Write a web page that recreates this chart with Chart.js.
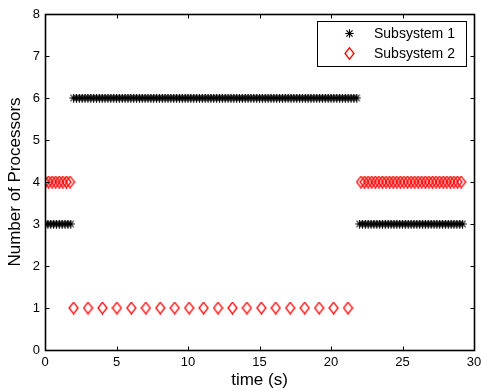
<!DOCTYPE html>
<html>
<head>
<meta charset="utf-8">
<script src="https://cdn.jsdelivr.net/npm/chart.js@4.4.1/dist/chart.umd.min.js"></script>
<style>
html,body{margin:0;padding:0;background:#fff;}
#wrap{width:481px;height:391px;position:relative;}
</style>
</head>
<body>
<div id="wrap"><canvas id="c" width="481" height="391"></canvas></div>
<script>
// ---- Data ----
const seriesNames = ["Subsystem 1", "Subsystem 2"];

// Subsystem 1: time stamps (s) per segment and processor count per segment
const s1TimeA = [0, 0.2, 0.4, 0.6, 0.8, 1.0, 1.2, 1.4, 1.6, 1.8];
const s1ProcsA = 3;
const s1TimeB = [
  2.0, 2.2, 2.4, 2.6, 2.8, 3.0, 3.2, 3.4, 3.6, 3.8,
  4.0, 4.2, 4.4, 4.6, 4.8, 5.0, 5.2, 5.4, 5.6, 5.8,
  6.0, 6.2, 6.4, 6.6, 6.8, 7.0, 7.2, 7.4, 7.6, 7.8,
  8.0, 8.2, 8.4, 8.6, 8.8, 9.0, 9.2, 9.4, 9.6, 9.8,
  10.0, 10.2, 10.4, 10.6, 10.8, 11.0, 11.2, 11.4, 11.6, 11.8,
  12.0, 12.2, 12.4, 12.6, 12.8, 13.0, 13.2, 13.4, 13.6, 13.8,
  14.0, 14.2, 14.4, 14.6, 14.8, 15.0, 15.2, 15.4, 15.6, 15.8,
  16.0, 16.2, 16.4, 16.6, 16.8, 17.0, 17.2, 17.4, 17.6, 17.8,
  18.0, 18.2, 18.4, 18.6, 18.8, 19.0, 19.2, 19.4, 19.6, 19.8,
  20.0, 20.2, 20.4, 20.6, 20.8, 21.0, 21.2, 21.4, 21.6, 21.8];
const s1ProcsB = 6;
const s1TimeC = [
  22.0, 22.2, 22.4, 22.6, 22.8, 23.0, 23.2, 23.4, 23.6, 23.8,
  24.0, 24.2, 24.4, 24.6, 24.8, 25.0, 25.2, 25.4, 25.6, 25.8,
  26.0, 26.2, 26.4, 26.6, 26.8, 27.0, 27.2, 27.4, 27.6, 27.8,
  28.0, 28.2, 28.4, 28.6, 28.8, 29.0, 29.2];
const s1ProcsC = 3;

// Subsystem 2
const s2TimeA = [0, 0.25, 0.5, 0.75, 1.0, 1.25, 1.5, 1.75];
const s2ProcsA = 4;
const s2TimeB = [2.0, 3.01, 4.02, 5.03, 6.04, 7.05, 8.06, 9.07, 10.08, 11.09,
  12.1, 13.11, 14.12, 15.13, 16.14, 17.15, 18.16, 19.17, 20.18, 21.19];
const s2ProcsB = 1;
const s2TimeC = [22.1, 22.35, 22.6, 22.85, 23.1, 23.35, 23.6, 23.85, 24.1, 24.35,
  24.6, 24.85, 25.1, 25.35, 25.6, 25.85, 26.1, 26.35, 26.6, 26.85,
  27.1, 27.35, 27.6, 27.85, 28.1, 28.35, 28.6, 28.85, 29.1];
const s2ProcsC = 4;

const xTicks = [0, 5, 10, 15, 20, 25, 30];
const yTicks = [0, 1, 2, 3, 4, 5, 6, 7, 8];
const xTitle = "time (s)";
const yTitle = "Number of Processors";

// ---- Build points ----
function seg(times, procs) { return times.map(t => ({x: t, y: procs})); }
const s1Points = [].concat(seg(s1TimeA, s1ProcsA), seg(s1TimeB, s1ProcsB), seg(s1TimeC, s1ProcsC));
const s2Points = [].concat(seg(s2TimeA, s2ProcsA), seg(s2TimeB, s2ProcsB), seg(s2TimeC, s2ProcsC));

// ---- Marker images ----
function makeStar() {
  const c = document.createElement('canvas');
  c.width = 9; c.height = 9;
  const g = c.getContext('2d');
  g.strokeStyle = '#000'; g.lineWidth = 1.1;
  g.beginPath();
  g.moveTo(4.5, 0.3); g.lineTo(4.5, 8.7);
  g.moveTo(0.3, 4.5); g.lineTo(8.7, 4.5);
  g.moveTo(1.4, 1.4); g.lineTo(7.6, 7.6);
  g.moveTo(7.6, 1.4); g.lineTo(1.4, 7.6);
  g.stroke();
  return c;
}
function makeDiamond() {
  const c = document.createElement('canvas');
  c.width = 11; c.height = 13;
  const g = c.getContext('2d');
  g.strokeStyle = '#ff0000'; g.lineWidth = 1.3;
  g.beginPath();
  g.moveTo(5.5, 0.8); g.lineTo(10, 6.5); g.lineTo(5.5, 12.2); g.lineTo(1, 6.5); g.closePath();
  g.stroke();
  return c;
}
const starImg = makeStar();
const diamondImg = makeDiamond();

// ---- Plugins: MATLAB-like box with inward ticks, and legend ----
const boxPlugin = {
  id: 'box',
  afterDraw(chart) {
    const {ctx, chartArea: a, scales} = chart;
    ctx.save();
    ctx.strokeStyle = '#000';
    ctx.lineWidth = 1;
    const L = Math.round(a.left) + 0.5, R = Math.round(a.right) + 0.5;
    const T = Math.round(a.top) + 0.5, B = Math.round(a.bottom) + 0.5;
    ctx.beginPath();
    const tl = 4;
    xTicks.forEach(v => {
      const px = Math.round(scales.x.getPixelForValue(v)) + 0.5;
      ctx.moveTo(px, B); ctx.lineTo(px, B - tl);
      ctx.moveTo(px, T); ctx.lineTo(px, T + tl);
    });
    yTicks.forEach(v => {
      const py = Math.round(scales.y.getPixelForValue(v)) + 0.5;
      ctx.moveTo(L, py); ctx.lineTo(L + tl, py);
      ctx.moveTo(R, py); ctx.lineTo(R - tl, py);
    });
    ctx.stroke();
    ctx.lineWidth = 1.6;
    ctx.strokeRect(L, T, R - L, B - T);
    ctx.restore();
  }
};

const legendPlugin = {
  id: 'boxLegend',
  afterDraw(chart) {
    const {ctx} = chart;
    const x0 = 317, y0 = 21, w = 149, h = 45;
    ctx.save();
    ctx.fillStyle = '#fff';
    ctx.fillRect(x0, y0, w, h);
    ctx.strokeStyle = '#000';
    ctx.lineWidth = 1;
    ctx.strokeRect(x0 + 0.5, y0 + 0.5, w, h);
    ctx.font = '14px "Liberation Sans", Arial, sans-serif';
    ctx.fillStyle = '#000';
    ctx.textBaseline = 'middle';
    const imgs = [starImg, diamondImg];
    chart.data.datasets.forEach((ds, i) => {
      const cy = y0 + 12 + i * 20;
      const im = imgs[i];
      ctx.drawImage(im, Math.round(349 - im.width / 2), Math.round(cy - im.height / 2));
      ctx.fillText(ds.label, 374, cy + 1);
    });
    ctx.restore();
  }
};

new Chart(document.getElementById('c'), {
  type: 'scatter',
  data: {
    datasets: [
      {label: seriesNames[0], data: s1Points, pointStyle: starImg, borderColor: '#000', backgroundColor: '#000', pointRadius: 4},
      {label: seriesNames[1], data: s2Points, pointStyle: diamondImg, borderColor: '#f00', backgroundColor: 'rgba(0,0,0,0)', pointRadius: 5}
    ]
  },
  plugins: [boxPlugin, legendPlugin],
  options: {
    responsive: false,
    animation: false,
    layout: {padding: {top: 14, right: 7, bottom: 0, left: 0}},
    plugins: {legend: {display: false}, tooltip: {enabled: false}},
    scales: {
      x: {
        type: 'linear', min: 0, max: 30,
        afterBuildTicks(s) { s.ticks = xTicks.map(v => ({value: v})); },
        afterFit(s) { s.height = 41; s.paddingLeft = 0; s.paddingRight = 0; },
        grid: {display: false, drawTicks: false}, border: {display: false},
        ticks: {color: '#000', padding: 5, font: {family: '"Liberation Sans", Arial, sans-serif', size: 13}, maxRotation: 0},
        title: {display: true, text: xTitle, color: '#000', font: {family: '"Liberation Sans", Arial, sans-serif', size: 17}, padding: {top: 0, bottom: 0}}
      },
      y: {
        type: 'linear', min: 0, max: 8,
        afterBuildTicks(s) { s.ticks = yTicks.map(v => ({value: v})); },
        afterFit(s) { s.width = 45; s.paddingTop = 0; s.paddingBottom = 0; },
        grid: {display: false, drawTicks: false}, border: {display: false},
        ticks: {color: '#000', padding: 5, font: {family: '"Liberation Sans", Arial, sans-serif', size: 13}},
        title: {display: true, text: yTitle, color: '#000', font: {family: '"Liberation Sans", Arial, sans-serif', size: 17}, padding: {top: 5, bottom: 0}}
      }
    }
  }
});
</script>
</body>
</html>
